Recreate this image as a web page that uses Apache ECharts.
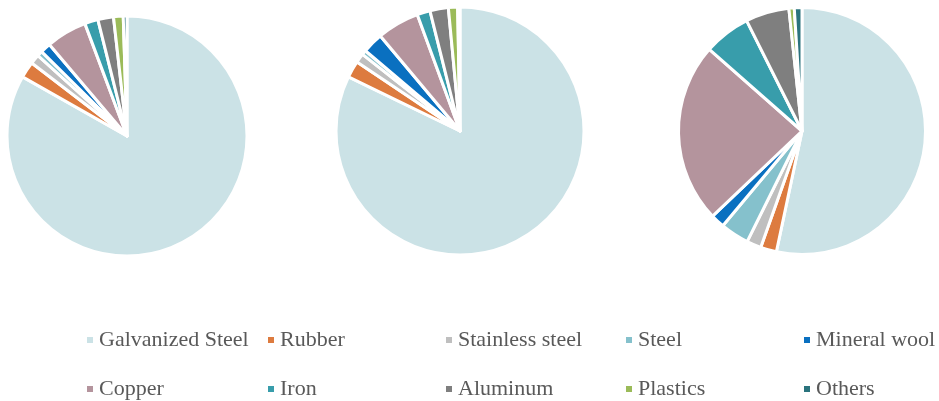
<!DOCTYPE html>
<html>
<head>
<meta charset="utf-8">
<script src="https://cdn.jsdelivr.net/npm/echarts@6/dist/echarts.min.js"></script>
<style>html,body{margin:0;padding:0;background:#fff;}#c{width:939px;height:401px;}</style>
</head>
<body>
<div id="c"></div>
<script>
const categories = ['Galvanized Steel','Rubber','Stainless steel','Steel','Mineral wool','Copper','Iron','Aluminum','Plastics','Others'];
const pie1Values = [83.2, 2.2, 1.3, 0.7, 1.4, 5.5, 1.8, 2.1, 1.3, 0.5];
const pie2Values = [82.2, 2.2, 1.2, 0.6, 2.7, 5.5, 1.7, 2.4, 1.2, 0.3];
const pie3Values = [53.3, 2.1, 1.9, 3.75, 1.8, 23.6, 6.1, 5.7, 0.7, 1.0];
const colors = ['#CBE2E6','#DD7B3F','#BFBFBF','#85C1CC','#0A70C0','#B4949D','#389DAB','#7F7F7F','#9BBB59','#2A737D'];

const chart = echarts.init(document.getElementById('c'), null, {renderer:'canvas'});
const pieDefs = [
  {values: pie1Values, center: [127, 136], r: 120},
  {values: pie2Values, center: [460, 131], r: 124},
  {values: pie3Values, center: [802, 131], r: 123.5}
];
const series = pieDefs.map(p => ({
  type: 'pie',
  center: p.center,
  radius: [0, p.r],
  startAngle: 90,
  clockwise: true,
  avoidLabelOverlap: false,
  label: {show: false},
  labelLine: {show: false},
  emphasis: {disabled: true},
  itemStyle: {borderColor: '#ffffff', borderWidth: 3},
  data: categories.map((n, i) => ({name: n, value: p.values[i]}))
}));
const colLeft = [80, 261, 439, 619, 797];
const rowTop = [324, 373];
const legends = categories.map((name, i) => ({
  orient: 'horizontal',
  left: colLeft[i % 5],
  top: rowTop[Math.floor(i / 5)],
  data: [name],
  icon: 'rect',
  itemWidth: 8,
  itemHeight: 8,
  selectedMode: false,
  textStyle: {fontFamily: '"Liberation Serif", "Times New Roman", serif', fontSize: 22, color: '#595959', lineHeight: 22, padding: [0,0,0,0]}
}));
chart.setOption({
  animation: false,
  color: colors,
  legend: legends,
  series: series
});
</script>
</body>
</html>
